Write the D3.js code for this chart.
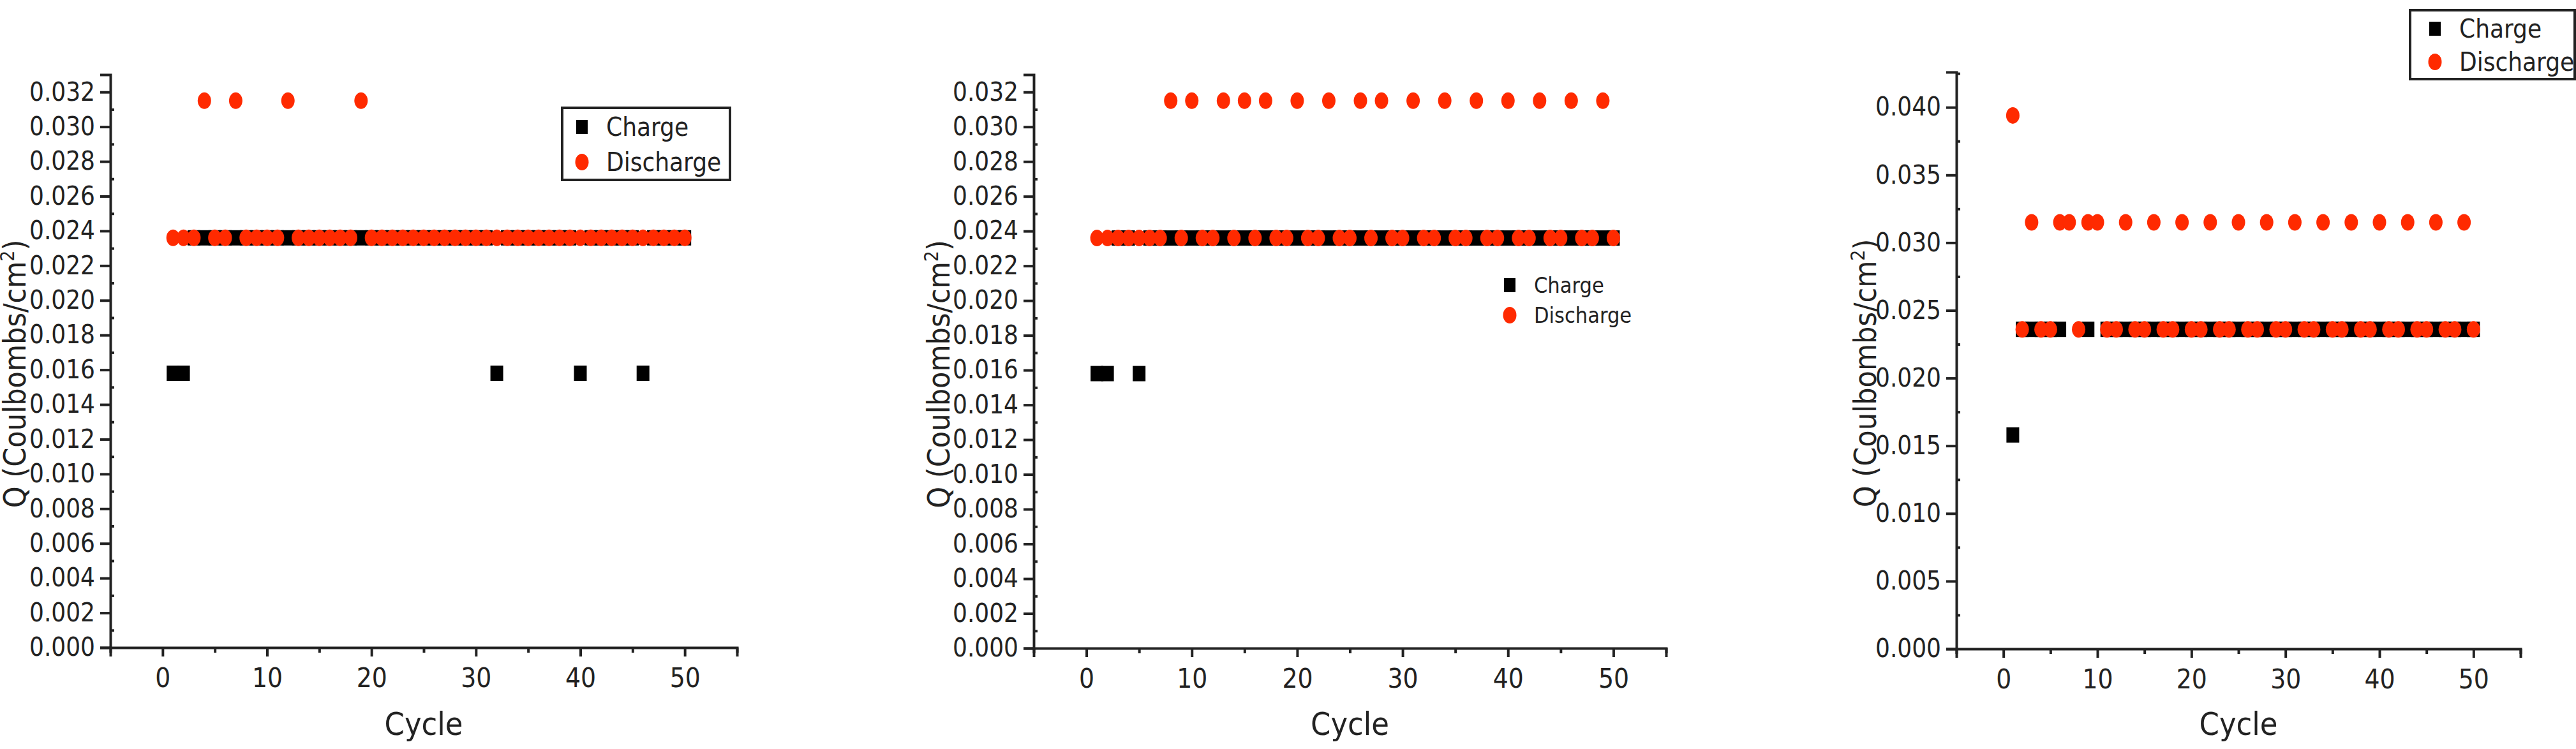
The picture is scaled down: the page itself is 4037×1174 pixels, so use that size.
<!DOCTYPE html>
<html><head><meta charset="utf-8">
<script src="https://cdn.jsdelivr.net/npm/d3@7"></script>
<style>body{margin:0;background:#fff}svg text{font-family:"DejaVu Sans Condensed","Liberation Sans Narrow",sans-serif;font-stretch:condensed}</style>
</head><body><svg id="c" width="4037" height="1174"></svg>
<script>
const cycles = d3.range(1, 51);
const LOW = 0.0158, MID = 0.0236, HIGH = 0.0315, TOP = 0.0394;
// Panel 1
const p1ChargeLow = [1, 2, 32, 40, 46];
const p1DischargeHigh = [4, 7, 12, 19];
// Panel 2
const p2ChargeLow = [1, 2, 5];
const p2DischargeHigh = [8, 10, 13, 15, 17, 20, 23, 26, 28, 31, 34, 37, 40, 43, 46, 49];
// Panel 3
const p3ChargeLow = [1];
const p3ChargeMissing = [7, 8, 10];
const p3DischargeTop = [1];
const p3DischargeHigh = [3, 6, 7, 9, 10, 13, 16, 19, 22, 25, 28, 31, 34, 37, 40, 43, 46, 49];
const xTicks = [0, 10, 20, 30, 40, 50];
const yTicks12 = d3.range(0, 0.0321, 0.002);
const yTicks3 = d3.range(0, 0.0401, 0.005);

const p1Charge = cycles.map(c => [c, p1ChargeLow.includes(c) ? LOW : MID]);
const p1Discharge = cycles.map(c => [c, p1DischargeHigh.includes(c) ? HIGH : MID]);
const p2Charge = cycles.map(c => [c, p2ChargeLow.includes(c) ? LOW : MID]);
const p2Discharge = cycles.map(c => [c, p2DischargeHigh.includes(c) ? HIGH : MID]);
const p3Charge = cycles.filter(c => !p3ChargeMissing.includes(c)).map(c => [c, p3ChargeLow.includes(c) ? LOW : MID]);
const p3Discharge = cycles.map(c => [c, p3DischargeTop.includes(c) ? TOP : p3DischargeHigh.includes(c) ? HIGH : MID]);

const svg = d3.select("#c");
const panels = [
 {x0:173, x1:1155, y0:1015, yTop:117, ymax:0.0330, yt:yTicks12, minor:0.001, ch:p1Charge, dis:p1Discharge, labX:40,
  legend:{box:[881,169,263,113], items:[[912,199],[912,254]], fs:40}},
 {x0:1620, x1:2611, y0:1016, yTop:117, ymax:0.0330, yt:yTicks12, minor:0.001, ch:p2Charge, dis:p2Discharge, labX:1488,
  legend:{box:null, items:[[2366,447],[2366,494]], fs:34}},
 {x0:3066, x1:3950, y0:1017, yTop:113, ymax:0.0426, yt:yTicks3, minor:0.0025, ch:p3Charge, dis:p3Discharge, labX:2940,
  legend:{box:[3777,16,258,108], items:[[3816,45],[3816,97]], fs:40}}
];
panels.forEach(p => {
  const x = d3.scaleLinear().domain([-5, 55]).range([p.x0, p.x1]);
  const y = d3.scaleLinear().domain([0, p.ymax]).range([p.y0, p.yTop]);
  const g = svg.append("g");
  const xa = g.append("g").attr("transform", `translate(0,${p.y0})`)
    .call(d3.axisBottom(x).tickValues(xTicks).tickSize(14).tickPadding(18).tickFormat(d3.format("d")));
  g.append("g").attr("transform", `translate(0,${p.y0})`)
    .call(d3.axisBottom(x).tickValues([-5,5,15,25,35,45,55]).tickSize(8).tickFormat("")).select(".domain").remove();
  const ya = g.append("g").attr("transform", `translate(${p.x0},0)`)
    .call(d3.axisLeft(y).tickValues(p.yt).tickSize(16).tickPadding(8).tickFormat(d3.format(".3f")));
  const minors = d3.range(p.minor, p.ymax, p.minor * 2);
  g.append("g").attr("transform", `translate(${p.x0},0)`)
    .call(d3.axisRight(y).tickValues(minors).tickSize(6).tickFormat("")).select(".domain").remove();
  g.selectAll(".domain").attr("stroke", "#222").attr("stroke-width", 4);
  g.selectAll(".tick line").attr("stroke", "#222").attr("stroke-width", 4);
  xa.selectAll("text").attr("font-size", 42).attr("fill", "#222");
  ya.selectAll("text").attr("font-size", 40).attr("fill", "#222");
  g.append("text").attr("x", (p.x0 + p.x1) / 2).attr("y", 1152).attr("text-anchor", "middle")
    .attr("font-size", 50).attr("fill", "#222").text("Cycle");
  const yl = g.append("text").attr("transform", `translate(${p.labX},${(p.y0 + p.yTop) / 2 + 20}) rotate(-90)`)
    .attr("text-anchor", "middle").attr("font-size", 48).attr("fill", "#222");
  yl.append("tspan").text("Q (Coulbombs/cm");
  yl.append("tspan").attr("dy", -18).attr("font-size", 30).text("2");
  yl.append("tspan").attr("dy", 18).text(")");
  g.append("g").selectAll("rect").data(p.ch).join("rect")
    .attr("x", d => x(d[0]) - 10).attr("y", d => y(d[1]) - 12).attr("width", 20).attr("height", 24).attr("fill", "#000");
  g.append("g").selectAll("ellipse").data(p.dis).join("ellipse")
    .attr("cx", d => x(d[0])).attr("cy", d => y(d[1])).attr("rx", 10.5).attr("ry", 13).attr("fill", "#ff2a00");
  const L = p.legend;
  if (L.box) g.append("rect").attr("x", L.box[0]).attr("y", L.box[1]).attr("width", L.box[2]).attr("height", L.box[3])
    .attr("fill", "none").attr("stroke", "#222").attr("stroke-width", 4);
  ["Charge", "Discharge"].forEach((name, i) => {
    const [lx, ly] = L.items[i];
    if (i === 0) g.append("rect").attr("x", lx - 9).attr("y", ly - 11).attr("width", 18).attr("height", 22).attr("fill", "#000");
    else g.append("ellipse").attr("cx", lx).attr("cy", ly).attr("rx", 10.5).attr("ry", 13).attr("fill", "#ff2a00");
    g.append("text").attr("x", lx + 38).attr("y", ly).attr("dy", "0.35em").attr("font-size", L.fs).attr("fill", "#222").text(name);
  });
});
</script></body></html>
